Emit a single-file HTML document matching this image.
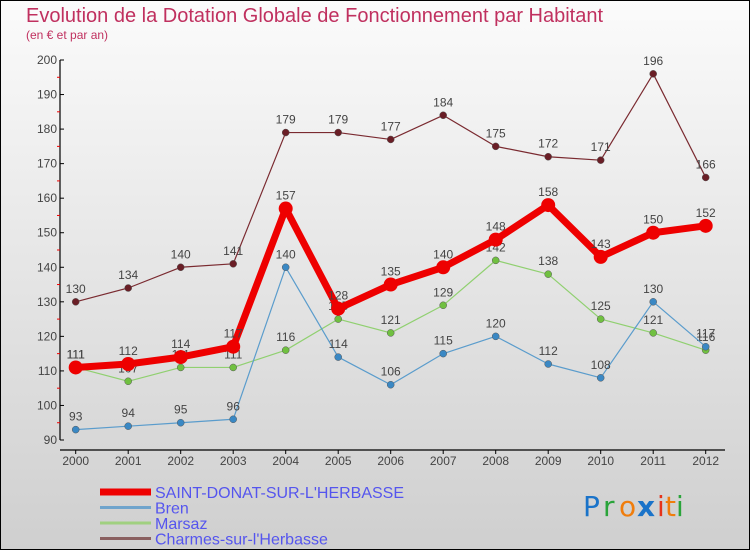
<!DOCTYPE html>
<html><head><meta charset="utf-8"><style>
body{margin:0;}
svg{display:block;font-family:"Liberation Sans","DejaVu Sans",sans-serif;}
</style></head><body>
<svg id="chart" width="750" height="550" viewBox="0 0 750 550">
<defs><linearGradient id="bg" x1="0" y1="0" x2="0" y2="1"><stop offset="0" stop-color="#fbfbfb"/><stop offset="1" stop-color="#cfcfcf"/></linearGradient></defs>
<rect x="0.5" y="0.5" width="749" height="549" fill="url(#bg)" stroke="#000"/>
<text x="26" y="22" font-size="20" fill="#c0305f">Evolution de la Dotation Globale de Fonctionnement par Habitant</text>
<text x="26" y="39" font-size="12" fill="#c0305f">(en € et par an)</text>
<g id="axes"></g><g id="series"></g><g id="legend"></g>
<g font-size="28" font-family="'DejaVu Sans',sans-serif">
<text x="583" y="516" fill="#1a73c9">P</text><text x="603" y="516" fill="#2aa43a">r</text><text x="619" y="516" fill="#f07d0c">o</text><text x="637" y="516" fill="#1a73c9" font-weight="bold">x</text><text x="657" y="516" fill="#e6331a">i</text><text x="665" y="516" fill="#f07d0c">t</text><text x="676" y="516" fill="#2aa43a">i</text>
</g>
</svg>
<script>
const years=[2000,2001,2002,2003,2004,2005,2006,2007,2008,2009,2010,2011,2012];
const saintDonat=[111,112,114,117,157,128,135,140,148,158,143,150,152];
const bren=[93,94,95,96,140,114,106,115,120,112,108,130,117];
const marsaz=[111,107,111,111,116,125,121,129,142,138,125,121,116];
const charmes=[130,134,140,141,179,179,177,184,175,172,171,196,166];
const yTicks=[90,100,110,120,130,140,150,160,170,180,190,200];
const NS="http://www.w3.org/2000/svg";
function X(i){return 75.7+i*52.5;}
function Y(v){return 440-(v-90)*(380/110);}
function mk(t,a,p){const e=document.createElementNS(NS,t);for(const k in a)e.setAttribute(k,a[k]);p.appendChild(e);return e;}
const ax=document.getElementById('axes');
let l=mk('line',{x1:60,y1:Y(200),x2:60,y2:Y(90),stroke:'#000','stroke-width':1.2},ax);


l=mk('line',{x1:60,y1:450,x2:725,y2:450,stroke:'#000','stroke-width':1.2},ax);


yTicks.forEach(v=>{
 mk('line',{x1:60,y1:Y(v),x2:64,y2:Y(v),stroke:'#000'},ax);
 if(v<200)mk('line',{x1:57,y1:Y(v+5),x2:60,y2:Y(v+5),stroke:'#e00'},ax);
 const t=mk('text',{x:57,y:Y(v)+4,'font-size':12,'text-anchor':'end',fill:'#444'},ax);t.textContent=v;
 
 
});
years.forEach((y,i)=>{
 mk('line',{x1:X(i),y1:450,x2:X(i),y2:454,stroke:'#000'},ax);
 const t=mk('text',{x:X(i),y:465,'font-size':12,'text-anchor':'middle',fill:'#444'},ax);t.textContent=y;
 
 
});
const sg=document.getElementById('series');
const series=[
 {name:'charmes',d:charmes,c:'#7a2a30',dot:'#6a1e26',w:1.2,r:3.5},
 {name:'marsaz',d:marsaz,c:'#90d070',dot:'#70c040',w:1.2,r:3.5},
 {name:'bren',d:bren,c:'#5a9ccc',dot:'#3a88c4',w:1.2,r:3.5},
 {name:'saint-donat',d:saintDonat,c:'#ee0000',dot:'#ee0000',w:7,r:7}
];
series.forEach(s=>{
 const g=mk('g',{},sg);
 
 
 const p=mk('polyline',{points:s.d.map((v,i)=>X(i)+','+Y(v)).join(' '),fill:'none',stroke:s.c,'stroke-width':s.w,'stroke-linejoin':'round'},g);
 
 
 s.d.forEach((v,i)=>{
  const c=mk('circle',{cx:X(i),cy:Y(v),r:s.r,fill:s.dot,stroke:'#555','stroke-width':s.w>2?0:0.5},g);
  
  
  const t=mk('text',{x:X(i),y:Y(v)-9,'font-size':12,'text-anchor':'middle',fill:'#444'},g);t.textContent=v;
  
  
 });
});
const lg=document.getElementById('legend');
[['SAINT-DONAT-SUR-L\'HERBASSE','#ee0000',7],['Bren','#6fa4cc',3],['Marsaz','#a0d080',3],['Charmes-sur-l\'Herbasse','#8a6060',3]].forEach((e,i)=>{
 const y=492+i*15.5;
 const ln=mk('line',{x1:100,y1:y,x2:151,y2:y,stroke:e[1],'stroke-width':e[2]},lg);
 
 
 const t=mk('text',{x:155,y:y+6,'font-size':16,fill:'#5555ee'},lg);t.textContent=e[0];
 
 
});
</script>
</body></html>
